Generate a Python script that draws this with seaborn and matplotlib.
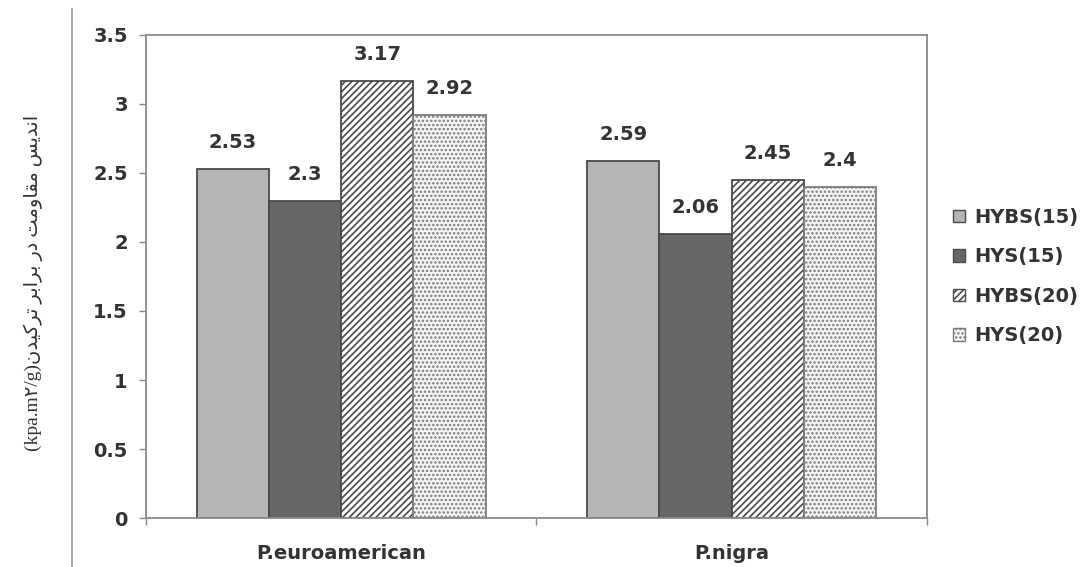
import pandas as pd
import seaborn as sns
import matplotlib.pyplot as plt
from matplotlib.patches import Patch
from matplotlib.lines import Line2D
from matplotlib.ticker import FixedLocator

# داده‌ها
species = ['P.euroamerican', 'P.nigra']
treatments = ['HYBS(15)', 'HYS(15)', 'HYBS(20)', 'HYS(20)']
hybs15 = [2.53, 2.59]
hys15 = [2.30, 2.06]
hybs20 = [3.17, 2.45]
hys20 = [2.92, 2.40]
yticks = [0, 0.5, 1, 1.5, 2, 2.5, 3, 3.5]
ylabel_fa = 'اندیس مقاومت در برابر ترکیدن'
ylabel_unit = '(kpa.m۲/g)'

face_colors = ['#b4b4b8', '#676767', '#ffffff', '#f6f6f6']
hatches = ['', '', '/////', '....']
edges = ['#4a4a4a', '#4a4a4a', '#4a4a4a', '#7c7c7c']

# شکل‌دهی حروف فارسی (matplotlib اتصال حروف را انجام نمی‌دهد)
forms = {
    'ا': ('\uFE8D', '\uFE8E', None, None),
    'ب': ('\uFE8F', '\uFE90', '\uFE91', '\uFE92'),
    'ت': ('\uFE95', '\uFE96', '\uFE97', '\uFE98'),
    'د': ('\uFEA9', '\uFEAA', None, None),
    'ر': ('\uFEAD', '\uFEAE', None, None),
    'س': ('\uFEB1', '\uFEB2', '\uFEB3', '\uFEB4'),
    'ق': ('\uFED5', '\uFED6', '\uFED7', '\uFED8'),
    'م': ('\uFEE1', '\uFEE2', '\uFEE3', '\uFEE4'),
    'ن': ('\uFEE5', '\uFEE6', '\uFEE7', '\uFEE8'),
    'و': ('\uFEED', '\uFEEE', None, None),
    'ی': ('\uFBFC', '\uFBFD', '\uFBFE', '\uFBFF'),
    'ک': ('\uFB8E', '\uFB8F', '\uFB90', '\uFB91'),
}
dual = set('بتسقمنیک')


def shape(text):
    out = []
    for i, ch in enumerate(text):
        if ch not in forms:
            out.append(ch)
            continue
        prev = text[i - 1] if i > 0 else ''
        nxt = text[i + 1] if i + 1 < len(text) else ''
        jp = prev in dual
        jn = ch in dual and nxt in forms
        iso, fin, ini, med = forms[ch]
        if jp and jn:
            out.append(med)
        elif jp:
            out.append(fin)
        elif jn:
            out.append(ini)
        else:
            out.append(iso)
    return ''.join(reversed(out))


df = pd.DataFrame({
    'species': species * 4,
    'treatment': [t for t in treatments for _ in species],
    'value': hybs15 + hys15 + hybs20 + hys20,
})

sns.set_theme(style='white')
plt.rcParams['font.family'] = ['DejaVu Sans']
plt.rcParams['hatch.linewidth'] = 1.2

fig = plt.figure(figsize=(10.86, 5.67), dpi=100)
ax = fig.add_axes([0.1344, 0.0864, 0.7192, 0.8519])

sns.barplot(data=df, x='species', y='value', hue='treatment',
            hue_order=treatments, palette=face_colors, width=0.74,
            errorbar=None, edgecolor='#4a4a4a', linewidth=1.3,
            legend=False, ax=ax)

for cont, h, ec in zip(ax.containers, hatches, edges):
    for bar in cont:
        bar.set_hatch(h)
        bar.set_edgecolor(ec)
    ax.bar_label(cont, fmt='%g', padding=12, fontsize=14,
                 fontweight='bold', color='#333333')

ax.set_ylim(0, 3.5)
ax.set_xlim(-0.5, 1.5)
ax.set_yticks(yticks)
ax.set_yticklabels([f'{v:g}' for v in yticks], fontsize=14,
                   fontweight='bold', color='#333333')
ax.set_xticks([0, 1])
ax.set_xticklabels(species, fontsize=14, fontweight='bold', color='#333333')
ax.xaxis.set_minor_locator(FixedLocator([-0.5, 0.5, 1.5]))
ax.tick_params(axis='x', which='major', length=0, pad=19)
ax.tick_params(axis='x', which='minor', length=5, width=1, color='#888888',
               direction='out', bottom=True)
ax.tick_params(axis='y', length=5, width=1, color='#888888', left=True,
               direction='out', pad=8)
ax.set_xlabel('')
ax.set_ylabel('')
for s in ax.spines.values():
    s.set_color('#8a8a8a')
    s.set_linewidth(1.3)

# برچسب محور عمودی
fig.text(33 / 1086, 1 - 283 / 567, ylabel_unit + shape(ylabel_fa),
         rotation=90, ha='center', va='center', fontsize=14,
         family=['Liberation Serif', 'DejaVu Sans'], color='#333333')

# خط حاشیه صفحه
fig.add_artist(Line2D([72 / 1086, 72 / 1086], [0.0, 0.985],
                      transform=fig.transFigure, color='#999999', lw=1.2))

handles = [Patch(facecolor=c, edgecolor=ec, hatch=h, linewidth=1)
           for c, h, ec in zip(face_colors, hatches, edges)]
ax.legend(handles, treatments, loc='upper left',
          bbox_to_anchor=(953 / 1086, 1 - 208 / 567),
          bbox_transform=fig.transFigure, frameon=False,
          prop={'size': 14, 'weight': 'bold'}, labelcolor='#333333',
          handlelength=0.6, handleheight=0.6, handletextpad=0.5,
          labelspacing=1.05, borderpad=0, borderaxespad=0)

plt.savefig('out.png', dpi=100)
